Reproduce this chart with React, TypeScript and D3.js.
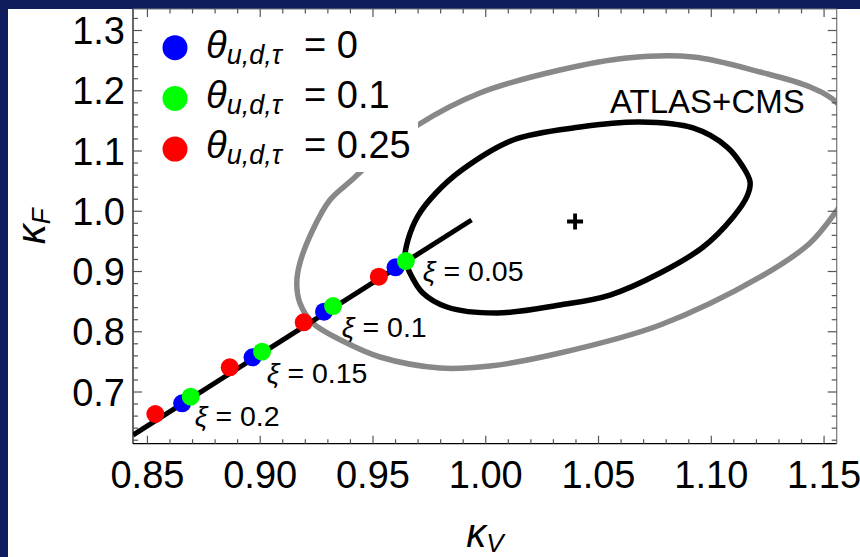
import React from "react";
import * as d3 from "d3";

// Benchmark points along the line, one array per theta value (ordered xi = 0.05 .. 0.2)
const xiLabels = ["0.05", "0.1", "0.15", "0.2"];
const xiLabelKV = [0.9721, 0.9362, 0.9029, 0.871];
const xiLabelKF = [0.8842, 0.7913, 0.7149, 0.6436];

const theta0KV = [0.96, 0.9283, 0.8966, 0.8654];
const theta0KF = [0.907, 0.8333, 0.7576, 0.6812];
const theta01KV = [0.9646, 0.9323, 0.9008, 0.8692];
const theta01KF = [0.9174, 0.8427, 0.7669, 0.6922];
const theta025KV = [0.9526, 0.9193, 0.8865, 0.8535];
const theta025KF = [0.8914, 0.8157, 0.741, 0.6635];

const legendLabels = ["0", "0.1", "0.25"];

// Trajectory of the model as xi grows
const lineKV = [0.8436, 0.9937];
const lineKF = [0.6286, 0.9855];

// Fit contours (closed curves)
const outerKV = [1.0919, 1.1217, 1.1438, 1.1558, 1.1625, 1.1642, 1.1616, 1.1558, 1.1438, 1.1217, 1.0773, 1.0329, 1.0019, 0.9797, 0.9531, 0.9384, 0.9233, 0.9176, 0.9162, 0.9176, 0.9233, 0.9309, 0.9406, 0.9553, 0.9699, 0.9974, 1.0329, 1.0626];
const outerKF = [1.256, 1.2311, 1.2062, 1.1797, 1.1349, 1.0851, 1.0353, 1.0021, 0.9473, 0.8909, 0.8112, 0.7647, 0.7432, 0.7398, 0.7581, 0.7813, 0.8145, 0.8477, 0.8809, 0.9141, 0.9689, 1.0187, 1.0519, 1.1017, 1.1432, 1.1963, 1.2344, 1.2544];
const innerKV = [1.0684, 1.0919, 1.107, 1.1141, 1.1172, 1.1159, 1.1097, 1.0964, 1.0773, 1.0551, 1.0329, 1.005, 0.9828, 0.9721, 0.9664, 0.9642, 0.9655, 0.9699, 0.9779, 0.9894, 1.0121, 1.0418];
const innerKF = [1.1481, 1.1382, 1.1066, 1.0734, 1.0485, 1.0253, 0.9905, 0.9407, 0.8975, 0.861, 0.8444, 0.8311, 0.8411, 0.8643, 0.8975, 0.9207, 0.9523, 0.9921, 1.0303, 1.0685, 1.1183, 1.1398];

const bestFitKV = 1.0396;
const bestFitKF = 0.983;

const kvMajorTicks = [0.85, 0.9, 0.95, 1.0, 1.05, 1.1, 1.15];
const kfMajorTicks = [0.7, 0.8, 0.9, 1.0, 1.1, 1.2, 1.3];

const W = 860;
const H = 557;
const FONT = "'Liberation Sans', Arial, sans-serif";

const plot = { left: 133, right: 836.7, top: 9, bottom: 443.7 };

export default function App() {
  const x = d3.scaleLinear().domain([0.8436, 1.1556]).range([plot.left, plot.right]);
  const y = d3.scaleLinear().domain([0.6142, 1.3357]).range([plot.bottom, plot.top]);

  const closed = d3
    .line<[number, number]>()
    .x((d) => x(d[0]))
    .y((d) => y(d[1]))
    .curve(d3.curveCatmullRomClosed.alpha(0.5));
  const straight = d3
    .line<[number, number]>()
    .x((d) => x(d[0]))
    .y((d) => y(d[1]));

  const outerPts = outerKV.map((v, i) => [v, outerKF[i]] as [number, number]);
  const innerPts = innerKV.map((v, i) => [v, innerKF[i]] as [number, number]);
  const linePts = lineKV.map((v, i) => [v, lineKF[i]] as [number, number]);

  const minorX = d3.range(85, 116).map((d) => d / 100);
  const minorY = d3.range(31, 67).map((d) => d / 50);

  const series = [
    { kv: theta025KV, kf: theta025KF, color: "#ff0000" },
    { kv: theta0KV, kf: theta0KF, color: "#0000ff" },
    { kv: theta01KV, kf: theta01KF, color: "#00ff00" },
  ];
  const legendColors = ["#0000ff", "#00ff00", "#ff0000"];

  const fmtX = d3.format(".2f");
  const fmtY = d3.format(".1f");
  const tickColor = "#555";

  return (
    <svg
      width={W}
      height={H}
      style={{ position: "absolute", left: 0, top: 0, display: "block" }}
      fontFamily={FONT}
    >
      <defs>
        <clipPath id="plotArea">
          <rect x={plot.left} y={plot.top} width={plot.right - plot.left} height={plot.bottom - plot.top} />
        </clipPath>
      </defs>
      <rect x={0} y={0} width={W} height={H} fill="#0f1d5e" />
      <rect x={8} y={9} width={W - 8} height={H - 9} fill="#ffffff" />

      <g clipPath="url(#plotArea)">
        <path d={closed(outerPts) ?? ""} fill="none" stroke="#888888" strokeWidth={5.5} />
        <path d={closed(innerPts) ?? ""} fill="none" stroke="#000000" strokeWidth={5.5} />
        <path d={straight(linePts) ?? ""} fill="none" stroke="#000000" strokeWidth={5} />
        {series.map((s, si) =>
          s.kv.map((v, i) => (
            <circle key={`${si}-${i}`} cx={x(v)} cy={y(s.kf[i])} r={9} fill={s.color} />
          ))
        )}
        <g transform={`translate(${x(bestFitKV)},${y(bestFitKF)})`} stroke="#000" strokeWidth={3.8}>
          <line x1={-8} x2={8} y1={0} y2={0} />
          <line x1={0} x2={0} y1={-8} y2={8} />
        </g>
        {/* legend backdrop */}
        <rect x={plot.left} y={plot.top} width={418 - plot.left} height={172 - plot.top} fill="#ffffff" />
      </g>

      {/* xi annotations */}
      {xiLabels.map((t, i) => (
        <text key={t} x={x(xiLabelKV[i])} y={y(xiLabelKF[i])} fontSize={28.5} fill="#000">
          <tspan fontStyle="italic">ξ</tspan>
          <tspan> = {t}</tspan>
        </text>
      ))}
      <text x={x(1.0551)} y={y(1.1625)} fontSize={33} fill="#000">
        ATLAS+CMS
      </text>

      {/* legend */}
      {legendLabels.map((t, i) => {
        const cy = 47.7 + i * 50.7;
        const base = 58.3 + i * 50;
        return (
          <g key={t}>
            <circle cx={175} cy={cy} r={12.5} fill={legendColors[i]} />
            <text x={206} y={base} fontSize={38} fill="#000">
              <tspan fontStyle="italic">θ</tspan>
              <tspan fontStyle="italic" fontSize={27} dy={6}>u,d,τ</tspan>
              <tspan x={304} dy={-6}>= {t}</tspan>
            </text>
          </g>
        );
      })}

      {/* frame */}
      <line x1={plot.left} x2={plot.left} y1={plot.top} y2={plot.bottom} stroke="#000" strokeWidth={1.2} />
      <line x1={plot.left} x2={plot.right} y1={plot.bottom} y2={plot.bottom} stroke="#000" strokeWidth={1.2} />
      <line x1={plot.right} x2={plot.right} y1={plot.top} y2={plot.bottom} stroke="#777" strokeWidth={1.2} />
      <line x1={plot.left} x2={plot.right} y1={plot.top} y2={plot.top} stroke="#777" strokeWidth={1.2} />

      {/* ticks */}
      <g stroke={tickColor} strokeWidth={1.2}>
        {minorX.map((v) => {
          const major = kvMajorTicks.some((m) => Math.abs(m - v) < 1e-6);
          const len = major ? 8 : 4.5;
          return (
            <g key={`x${v}`}>
              <line x1={x(v)} x2={x(v)} y1={plot.bottom} y2={plot.bottom - len} />
              <line x1={x(v)} x2={x(v)} y1={plot.top} y2={plot.top + len} />
            </g>
          );
        })}
        {minorY.map((v) => {
          const major = kfMajorTicks.some((m) => Math.abs(m - v) < 1e-6);
          const len = major ? 9 : 5;
          return (
            <g key={`y${v}`}>
              <line x1={plot.left} x2={plot.left + len} y1={y(v)} y2={y(v)} />
              <line x1={plot.right} x2={plot.right - len} y1={y(v)} y2={y(v)} />
            </g>
          );
        })}
      </g>

      {/* tick labels */}
      {kvMajorTicks.map((v) => (
        <text key={`xl${v}`} x={x(v)} y={488.3} fontSize={38} textAnchor="middle" fill="#000">
          {fmtX(v)}
        </text>
      ))}
      {kfMajorTicks.map((v) => (
        <text key={`yl${v}`} x={125} y={y(v)} dy="0.36em" fontSize={38} textAnchor="end" fill="#000">
          {fmtY(v)}
        </text>
      ))}

      {/* axis titles */}
      <text x={(plot.left + plot.right) / 2} y={547} fontSize={40} textAnchor="middle" fill="#000">
        <tspan fontStyle="italic">κ</tspan>
        <tspan fontStyle="italic" fontSize={26} dy={5}>V</tspan>
      </text>
      <text
        transform={`translate(45,${(plot.top + plot.bottom) / 2}) rotate(-90)`}
        fontSize={40}
        textAnchor="middle"
        fill="#000"
      >
        <tspan fontStyle="italic">κ</tspan>
        <tspan fontStyle="italic" fontSize={26} dy={5}>F</tspan>
      </text>
    </svg>
  );
}
